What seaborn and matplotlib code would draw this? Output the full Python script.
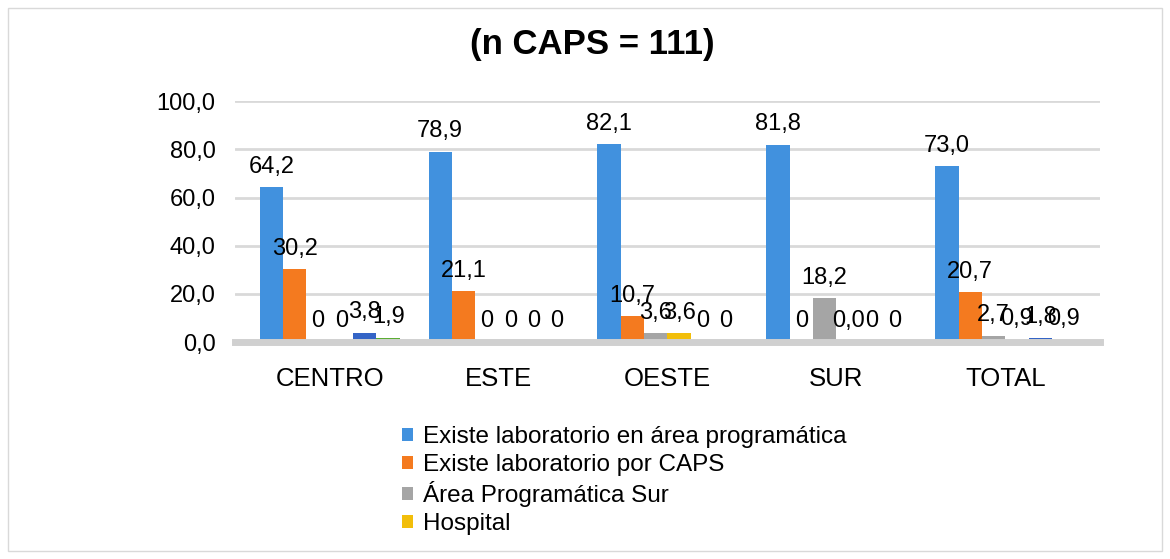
import seaborn as sns
import matplotlib.pyplot as plt
import pandas as pd
from matplotlib.patches import Rectangle

# data
regions = ['CENTRO', 'ESTE', 'OESTE', 'SUR', 'TOTAL']
series = ['Existe laboratorio en área programática', 'Existe laboratorio por CAPS',
          'Área Programática Sur', 'Hospital', 'Serie 5', 'Serie 6']
lab_area = [64.2, 78.9, 82.1, 81.8, 73.0]
lab_caps = [30.2, 21.1, 10.7, 0, 20.7]
ap_sur = [0, 0, 3.6, 18.2, 2.7]
hospital = [0, 0, 3.6, 0.0, 0.9]
serie5 = [3.8, 0, 0, 0, 1.8]
serie6 = [1.9, 0, 0, 0, 0.9]

# label texts as printed on the chart
lbl_area = ['64,2', '78,9', '82,1', '81,8', '73,0']
lbl_caps = ['30,2', '21,1', '10,7', '0', '20,7']
lbl_sur = ['0', '0', '3,6', '18,2', '2,7']
lbl_hosp = ['0', '0', '3,6', '0,0', '0,9']
lbl_s5 = ['3,8', '0', '0', '0', '1,8']
lbl_s6 = ['1,9', '0', '0', '0', '0,9']

colors = ['#4191DE', '#F47A1F', '#A5A5A5', '#F2BE0A', '#3464C6', '#5BAD34']

all_vals = [lab_area, lab_caps, ap_sur, hospital, serie5, serie6]
all_lbls = [lbl_area, lbl_caps, lbl_sur, lbl_hosp, lbl_s5, lbl_s6]

rows = []
for s, vals in zip(series, all_vals):
    for r, v in zip(regions, vals):
        rows.append({'region': r, 'serie': s, 'valor': v})
df = pd.DataFrame(rows)

sns.set_style('white', {'text.color': 'black', 'xtick.color': 'black', 'ytick.color': 'black'})
plt.rcParams['font.family'] = ['Liberation Sans', 'DejaVu Sans']

fig = plt.figure(figsize=(11.7, 5.59), dpi=100)
ax = fig.add_axes([0.201, 0.388, 0.739, 0.431])

sns.barplot(data=df, x='region', y='valor', hue='serie', order=regions, hue_order=series,
            palette=colors, width=0.83, saturation=1, linewidth=0, ax=ax, legend=True)

for cont, lbls in zip(ax.containers, all_lbls):
    ax.bar_label(cont, labels=lbls, padding=7, fontsize=17, color='black')

ax.set_ylim(0, 100)
ax.set_xlim(-0.56, 4.56)
ax.set_yticks(range(0, 101, 20))
ax.set_yticklabels([f'{t},0' for t in range(0, 101, 20)])
ax.yaxis.grid(True, color='#D9D9D9', linewidth=2)
ax.set_axisbelow(True)
ax.set_xlabel('')
ax.set_ylabel('')
for side in ['top', 'right', 'left']:
    ax.spines[side].set_visible(False)
ax.spines['bottom'].set_color('#D0D0D0')
ax.spines['bottom'].set_linewidth(5)
ax.tick_params(axis='y', labelsize=17, pad=14, length=0, labelcolor='black')
ax.tick_params(axis='x', labelsize=18.5, pad=18, length=0, labelcolor='black')

handles, labels = ax.get_legend_handles_labels()
leg = ax.legend(handles[:4], labels[:4], loc='upper left', bbox_to_anchor=(0.3436, 0.2375),
                bbox_transform=fig.transFigure, frameon=False, fontsize=17.5,
                handlelength=0.45, handleheight=0.45, handletextpad=0.4, labelspacing=0.23,
                borderaxespad=0, borderpad=0)
for t in leg.get_texts():
    t.set_color('black')

fig.text(0.506, 0.921, '(n CAPS = 111)', ha='center', va='center', fontsize=25,
         fontweight='bold', color='black')
fig.patches.append(Rectangle((0.007, 0.014), 0.986, 0.972, transform=fig.transFigure,
                             fill=False, edgecolor='#D9D9D9', linewidth=1))

fig.savefig('out.png', dpi=100)
